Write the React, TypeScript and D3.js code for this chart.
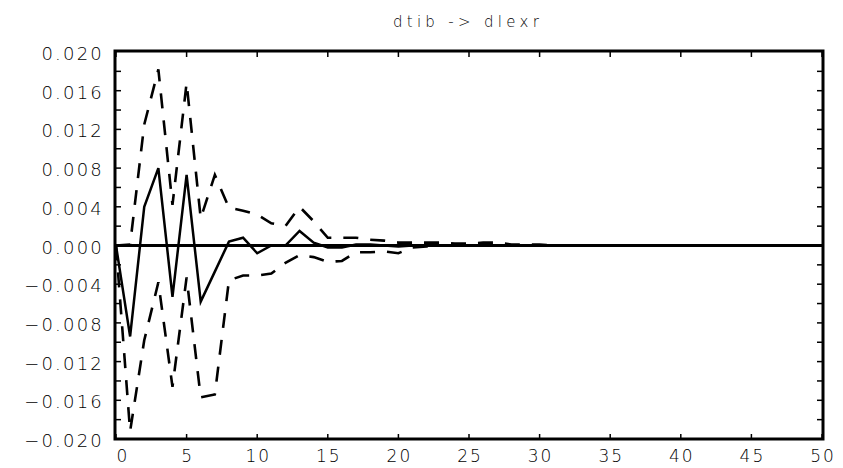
import React from "react";
import * as d3 from "d3";

const title = "dtib -> dlexr";

const horizons = [
  0, 1, 2, 3, 4, 5, 6, 7, 8, 9, 10, 11, 12, 13, 14, 15, 16, 17, 18, 19, 20,
  21, 22, 23, 24, 25, 26, 27, 28, 29, 30, 31, 32, 33, 34, 35, 36, 37, 38, 39, 40,
  41, 42, 43, 44, 45, 46, 47, 48, 49, 50,
];

const response = [
  0, -0.0094, 0.004, 0.008, -0.0053, 0.0073, -0.0058, -0.0027, 0.0004, 0.0008, -0.0008,
  0.0, 0.0, 0.0015, 0.0003, -0.0002, -0.0002, 0.0001, 0.0001, 0.0, -0.0001,
  0, 0, 0, 0, 0, 0, 0, 0, 0, 0,
  0, 0, 0, 0, 0, 0, 0, 0, 0, 0,
  0, 0, 0, 0, 0, 0, 0, 0, 0, 0,
];

const upper = [
  0, 0.0001, 0.0125, 0.0182, 0.0042, 0.0168, 0.0028, 0.0073, 0.0039, 0.0036, 0.0032,
  0.0023, 0.002, 0.004, 0.0025, 0.0008, 0.0008, 0.0008, 0.0006, 0.0005, 0.0003,
  0.0003, 0.0003, 0.0003, 0.0002, 0.0002, 0.0003, 0.0003, 0.0001, 0.0001, 0.0001,
  0, 0, 0, 0, 0, 0, 0, 0, 0, 0,
  0, 0, 0, 0, 0, 0, 0, 0, 0, 0,
];

const lower = [
  0, -0.0192, -0.0098, -0.0038, -0.0146, -0.0033, -0.0157, -0.0154, -0.0036, -0.0031, -0.0031,
  -0.0029, -0.0018, -0.001, -0.0012, -0.0017, -0.0016, -0.0007, -0.0007, -0.0006, -0.0008,
  -0.0002, -0.0001, 0, 0, 0, 0, 0, 0, 0, 0,
  0, 0, 0, 0, 0, 0, 0, 0, 0, 0,
  0, 0, 0, 0, 0, 0, 0, 0, 0, 0,
];

const yTickLabels = [0.02, 0.016, 0.012, 0.008, 0.004, 0, -0.004, -0.008, -0.012, -0.016, -0.02];
const yMinorTicks = [
  0.018, 0.016, 0.014, 0.012, 0.01, 0.008, 0.006, 0.004, 0.002, 0, -0.002, -0.004, -0.006,
  -0.008, -0.01, -0.012, -0.014, -0.016, -0.018,
];
const xTicks = [0, 5, 10, 15, 20, 25, 30, 35, 40, 45, 50];

const W = 843;
const H = 468;
const FONT = "'DejaVu Sans', sans-serif";

export default function App() {
  const x = d3.scaleLinear().domain([0, 50]).range([116, 822]);
  const y = d3.scaleLinear().domain([-0.02, 0.02]).range([439, 52]);
  const [x0, x1] = [115, 823];
  const [yTop, yBot] = [51, 439];

  const line = d3
    .line<number>()
    .x((_, i) => x(horizons[i]))
    .y((d) => y(d));

  const fmt = (v: number) => {
    const s = Math.abs(v).toFixed(3);
    return v < 0 ? "\u2212" + s : s;
  };

  return (
    <div style={{ position: "fixed", left: 0, top: 0, background: "#fff" }}>
      <svg width={W} height={H} style={{ display: "block" }}>
        <rect x={0} y={0} width={W} height={H} fill="#fff" />
        <text
          x={468}
          y={26.5}
          textAnchor="middle"
          fontFamily={FONT}
          fontSize={15}
          fontWeight={200}
          letterSpacing={4.3}
          fill="#000"
        >
          {title}
        </text>

        {/* zero line */}
        <line x1={x(0)} x2={x(50)} y1={y(0)} y2={y(0)} stroke="#000" strokeWidth={3} />

        {/* bands */}
        <path d={line(upper) || ""} fill="none" stroke="#000" strokeWidth={2.6} strokeDasharray="15 12" />
        <path d={line(lower) || ""} fill="none" stroke="#000" strokeWidth={2.6} strokeDasharray="15 12" />
        {/* response */}
        <path d={line(response) || ""} fill="none" stroke="#000" strokeWidth={2.5} strokeLinejoin="miter" />

        {/* frame */}
        <rect x={x0} y={yTop} width={x1 - x0} height={yBot - yTop} fill="none" stroke="#000" strokeWidth={3} />

        {/* y ticks */}
        {yMinorTicks.map((t) => (
          <g key={"yt" + t}>
            <line x1={x0} x2={x0 + 6} y1={y(t)} y2={y(t)} stroke="#000" strokeWidth={1.5} />
            <line x1={x1 - 6} x2={x1} y1={y(t)} y2={y(t)} stroke="#000" strokeWidth={1.5} />
          </g>
        ))}
        {/* x ticks */}
        {xTicks.map((t) => (
          <g key={"xt" + t}>
            <line x1={x(t)} x2={x(t)} y1={yBot} y2={yBot - 5} stroke="#000" strokeWidth={1.5} />
            <line x1={x(t)} x2={x(t)} y1={yTop} y2={yTop + 6} stroke="#000" strokeWidth={1.5} />
          </g>
        ))}

        {/* y labels */}
        {yTickLabels.map((t) => (
          <text
            key={"yl" + t}
            x={104}
            y={y(t) + 8}
            textAnchor="end"
            fontFamily={FONT}
            fontSize={18}
            fontWeight={200}
            letterSpacing={2.2}
            fill="#000"
          >
            {fmt(t)}
          </text>
        ))}
        {/* x labels */}
        {xTicks.map((t, i) => (
          <text
            key={"xl" + t}
            x={x(t) + (i === 0 ? 7 : 1)}
            y={462}
            textAnchor="middle"
            fontFamily={FONT}
            fontSize={17}
            fontWeight={200}
            letterSpacing={2}
            fill="#000"
          >
            {String(t)}
          </text>
        ))}
      </svg>
    </div>
  );
}
